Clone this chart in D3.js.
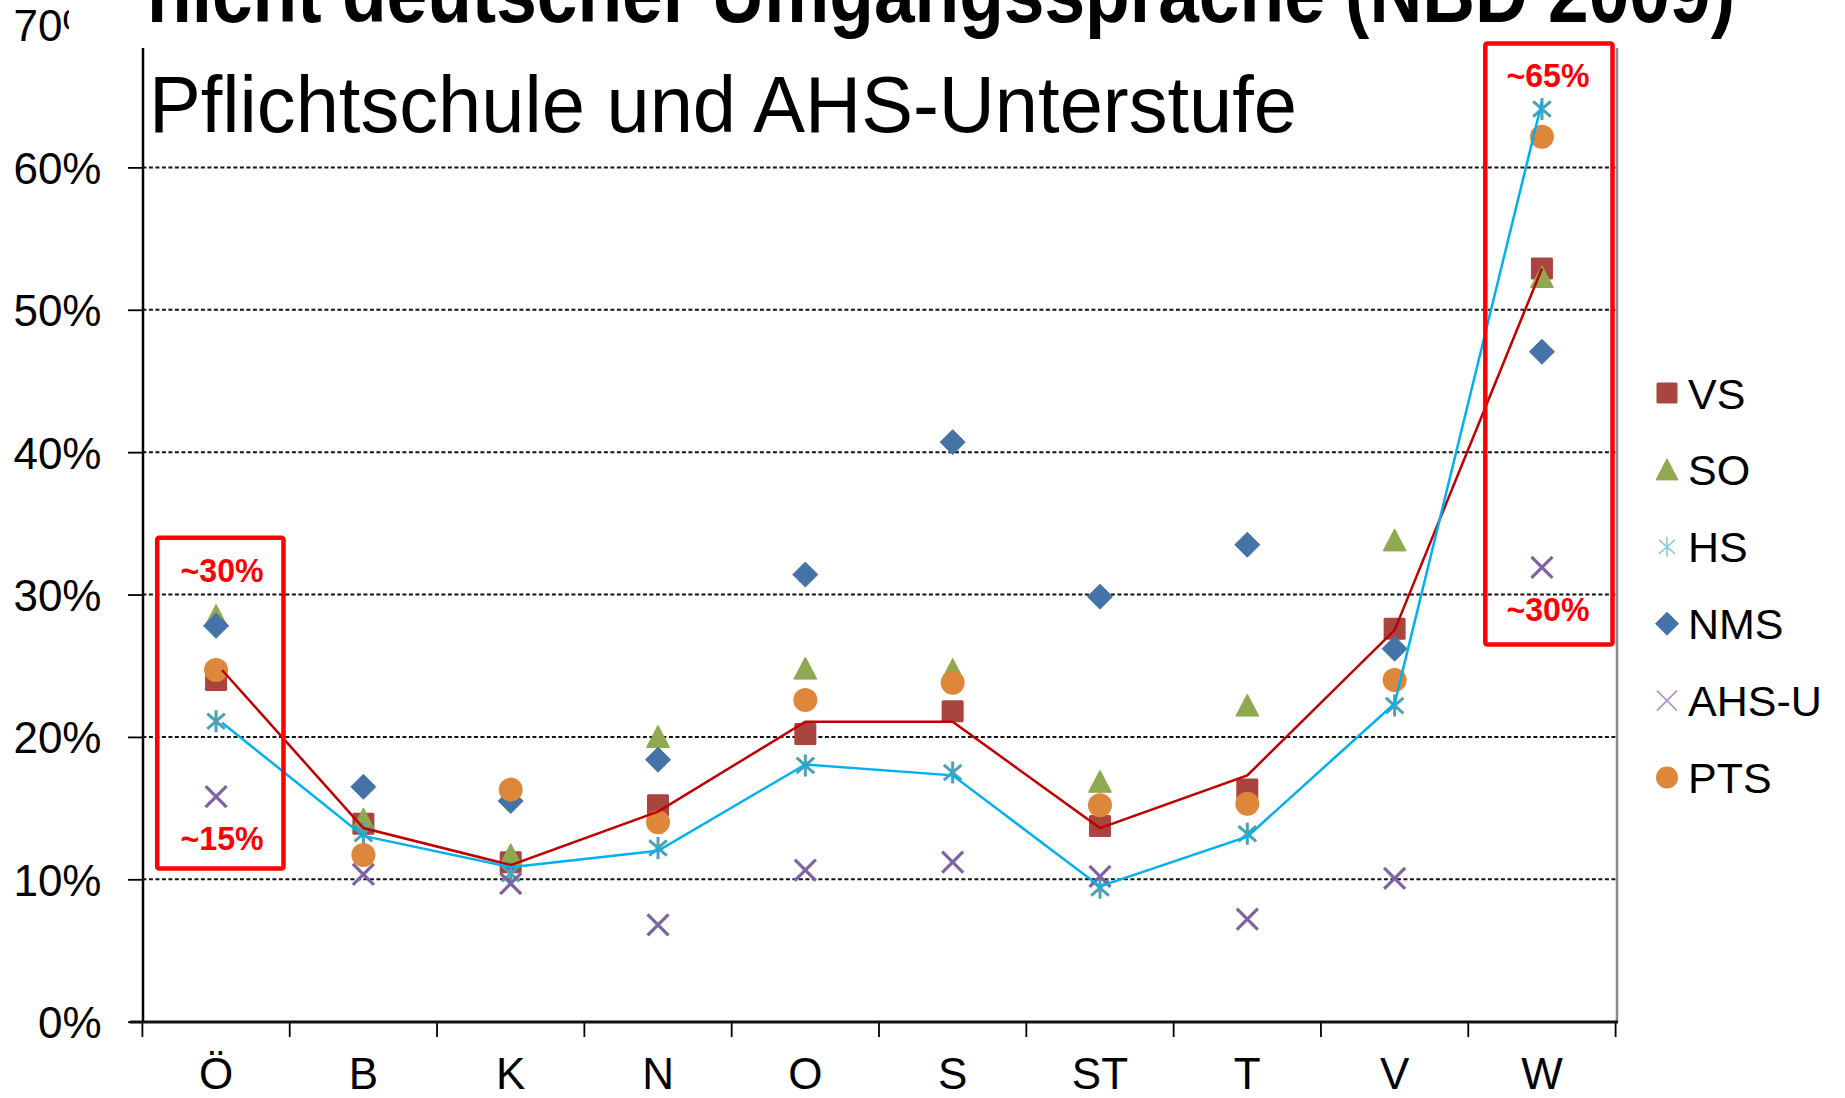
<!DOCTYPE html>
<html>
<head>
<meta charset="utf-8">
<script src="https://cdn.jsdelivr.net/npm/d3@7"></script>
<style>
  body { margin: 0; background: #fff; }
  text { font-family: "Liberation Sans", Arial, sans-serif; }
</style>
</head>
<body>
<script>
    // Daten (Anteil in %)
    const categories = ["Ö", "B", "K", "N", "O", "S", "ST", "T", "V", "W"];
    const vs  = [24.0, 13.9, 11.2, 15.2, 20.2, 21.8, 13.75, 16.3, 27.6, 52.9];
    const so  = [28.5, 14.2, 11.7, 20.0, 24.8, 24.7, 16.85, 22.2, 33.8, 52.3];
    const hs  = [21.1, 13.2, 10.4, 12.2, 18.0, 17.5, 9.4, 13.2, 22.2, 64.1];
    const nms = [27.8, 16.5, 15.5, 18.4, 31.4, 40.7, 29.85, 33.5, 26.2, 47.05];
    const ahs = [15.8, 10.35, 9.7, 6.8, 10.65, 11.2, 10.2, 7.2, 10.07, 31.9];
    const pts = [24.7, 11.7, 16.3, 14.0, 22.6, 23.8, 15.2, 15.3, 24.0, 62.15];
    // eingezeichnete Linien
    const redLine  = [24.7, 13.6, 11.0, 14.75, 21.07, 21.07, 13.6, 17.3, 27.5, 52.9];
    const blueLine = [21.0, 13.05, 10.85, 12.0, 18.07, 17.3, 9.5, 13.0, 22.35, 64.6];
    const yTicks = [0, 10, 20, 30, 40, 50, 60, 70];
    const legendNames = ["VS", "SO", "HS", "NMS", "AHS-U", "PTS"];
    const boxLabels = [["~30%", "~15%"], ["~65%", "~30%"]];

    const width = 1845, height = 1098;
    const svg = d3.select("body").append("svg")
        .attr("width", width)
        .attr("height", height);

    const x = d3.scaleBand().domain(categories).range([142.4, 1615.6]);
    const y = d3.scaleLinear().domain([0, 70]).range([1021.7, 25]);
    const cx = c => x(c) + x.bandwidth() / 2;

    // Gitterlinien
    svg.append("g")
        .selectAll("line")
        .data(yTicks.filter(d => d > 0))
        .join("line")
        .attr("x1", x.range()[0]).attr("x2", x.range()[1])
        .attr("y1", d => y(d)).attr("y2", d => y(d))
        .attr("stroke", "#111")
        .attr("stroke-width", 2)
        .attr("stroke-dasharray", "4,2.5");

    // rechter Rand
    svg.append("line")
        .attr("x1", 1617).attr("x2", 1617)
        .attr("y1", 48).attr("y2", 1022)
        .attr("stroke", "#8a8a8a").attr("stroke-width", 2.5);

    // y-Achse
    const yAxis = svg.append("g")
        .attr("transform", "translate(143,0)")
        .call(d3.axisLeft(y).tickValues(yTicks).tickSize(15).tickFormat(d => d + "%"));
    yAxis.select(".domain").remove();
    yAxis.selectAll(".tick line").attr("stroke", "#000").attr("stroke-width", 1.8);
    yAxis.selectAll(".tick text")
        .attr("x", -41.5)
        .attr("dy", "0.36em")
        .attr("font-size", 44)
        .attr("font-family", "Liberation Sans, Arial, sans-serif")
        .attr("fill", "#000");
    svg.append("line")
        .attr("x1", 143).attr("x2", 143)
        .attr("y1", 48).attr("y2", 1023)
        .attr("stroke", "#000").attr("stroke-width", 2.5);

    // x-Achse
    const xAxis = svg.append("g")
        .attr("transform", "translate(0,1022)")
        .call(d3.axisBottom(x).tickSize(0).tickPadding(0));
    xAxis.select(".domain").remove();
    xAxis.selectAll(".tick text")
        .attr("y", 67)
        .attr("dy", 0)
        .attr("font-size", 44)
        .attr("font-family", "Liberation Sans, Arial, sans-serif")
        .attr("fill", "#000");
    svg.append("g")
        .selectAll("line")
        .data(d3.range(categories.length + 1))
        .join("line")
        .attr("x1", i => x.range()[0] + i * x.bandwidth())
        .attr("x2", i => x.range()[0] + i * x.bandwidth())
        .attr("y1", 1022).attr("y2", 1037)
        .attr("stroke", "#000").attr("stroke-width", 1.8);
    svg.append("line")
        .attr("x1", 130).attr("x2", 1618)
        .attr("y1", 1022).attr("y2", 1022)
        .attr("stroke", "#111").attr("stroke-width", 3);

    // Marker
    function marker(g, type, px, py, legend) {
        const s = legend ? 11 : 11.5;
        if (type === "VS") {
            g.append("rect").attr("x", px - s + 0.5).attr("y", py - s + 0.5)
                .attr("width", 2 * s - 1).attr("height", 2 * s - 1).attr("rx", 1.5)
                .attr("fill", "#A9443F");
        } else if (type === "SO") {
            g.append("path")
                .attr("d", `M${px},${py - s}L${px + s},${py + s - 1}L${px - s},${py + s - 1}Z`)
                .attr("fill", "#8EA950").attr("stroke", "#8EA950").attr("stroke-linejoin", "round").attr("stroke-width", 1);
        } else if (type === "HS") {
            const c = legend ? "#8CCBDA" : "#4AA2B8";
            const w = legend ? 1.6 : 3;
            const a = legend ? 10 : 11;
            const p = `M${px},${py - a}L${px},${py + a}M${px - a * 0.8},${py - a * 0.7}L${px + a * 0.8},${py + a * 0.7}M${px + a * 0.8},${py - a * 0.7}L${px - a * 0.8},${py + a * 0.7}`;
            g.append("path").attr("d", p).attr("stroke", c).attr("stroke-width", w).attr("fill", "none");
        } else if (type === "NMS") {
            const a = legend ? 11.5 : 12.5;
            g.append("path")
                .attr("d", `M${px},${py - a}L${px + a},${py}L${px},${py + a}L${px - a},${py}Z`)
                .attr("fill", "#4572A7").attr("stroke", "#4572A7").attr("stroke-linejoin", "round").attr("stroke-width", 1);
        } else if (type === "AHS-U") {
            const c = legend ? "#A995C6" : "#7E63A0";
            const w = legend ? 1.6 : 3.2;
            const a = legend ? 10 : 10.5;
            g.append("path")
                .attr("d", `M${px - a},${py - a}L${px + a},${py + a}M${px + a},${py - a}L${px - a},${py + a}`)
                .attr("stroke", c).attr("stroke-width", w).attr("fill", "none");
        } else if (type === "PTS") {
            g.append("circle").attr("cx", px).attr("cy", py).attr("r", legend ? 11 : 12)
                .attr("fill", "#DE8639");
        }
    }

    const seriesData = [vs, so, hs, nms, ahs, pts];
    const marks = svg.append("g");
    seriesData.forEach((vals, si) => {
        vals.forEach((v, i) => marker(marks, legendNames[si], cx(categories[i]), y(v), false));
    });

    // Linien
    const line = d3.line().x((d, i) => cx(categories[i]) + (i === 0 ? 6 : 0)).y(d => y(d));
    svg.append("path").datum(redLine)
        .attr("d", line).attr("fill", "none")
        .attr("stroke", "#C00000").attr("stroke-width", 2.5);
    svg.append("path").datum(blueLine)
        .attr("d", line).attr("fill", "none")
        .attr("stroke", "#00B0F0").attr("stroke-width", 2.5);

    // Titelbereich (abgeschnitten)
    svg.append("rect").attr("x", 69).attr("y", 0).attr("width", width - 69).attr("height", 47).attr("fill", "#fff");
    svg.append("text")
        .attr("x", 147).attr("y", 22)
        .attr("font-family", "Lato, sans-serif").attr("font-weight", 900)
        .attr("font-size", 84)
        .attr("textLength", 1588).attr("lengthAdjust", "spacingAndGlyphs")
        .text("nicht deutscher Umgangssprache (NBD 2009)");
    svg.append("text")
        .attr("x", 149).attr("y", 132)
        .attr("font-family", "Lato, sans-serif")
        .attr("font-size", 80)
        .attr("textLength", 1148).attr("lengthAdjust", "spacingAndGlyphs")
        .text("Pflichtschule und AHS-Unterstufe");

    // rote Rahmen
    const boxes = [
        { c: "Ö", top: 537.8, bottom: 868.5, l: 157.2, r: 283.5, ty: [582, 850] },
        { c: "W", top: 43.6, bottom: 644.5, l: 1485.3, r: 1612.5, ty: [86.5, 621] }
    ];
    boxes.forEach((b, bi) => {
        svg.append("rect")
            .attr("x", b.l).attr("y", b.top)
            .attr("width", b.r - b.l).attr("height", b.bottom - b.top)
            .attr("rx", 2)
            .attr("fill", "none").attr("stroke", "#FF0000").attr("stroke-width", 4.5);
        boxLabels[bi].forEach((t, ti) => {
            svg.append("text")
                .attr("x", cx(b.c) + 6).attr("y", b.ty[ti])
                .attr("text-anchor", "middle")
                .attr("font-family", "Lato, sans-serif").attr("font-weight", 700)
                .attr("font-size", 33)
                .attr("textLength", 83).attr("lengthAdjust", "spacingAndGlyphs")
                .attr("fill", "#FF0000")
                .text(t);
        });
    });

    // Legende
    const legend = svg.append("g");
    legendNames.forEach((n, i) => {
        const ly = 393 + i * 76.9;
        marker(legend, n, 1667, ly, true);
        legend.append("text")
            .attr("x", 1688).attr("y", ly + 15.5)
            .attr("font-size", 43)
            .attr("fill", "#000")
            .text(n);
    });
</script>
</body>
</html>
